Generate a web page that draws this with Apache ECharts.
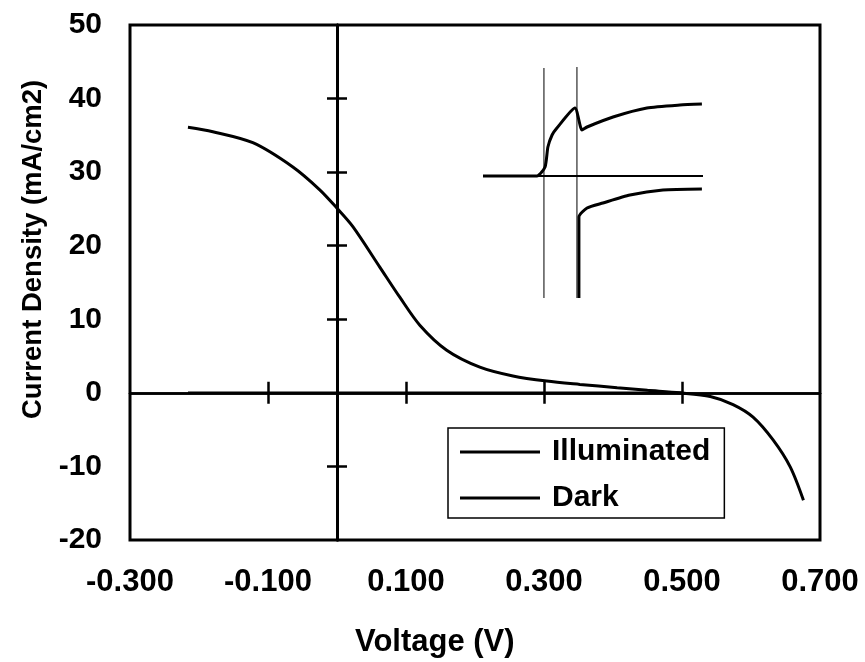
<!DOCTYPE html>
<html>
<head>
<meta charset="utf-8">
<script src="https://cdn.jsdelivr.net/npm/echarts@6/dist/echarts.min.js"></script>
<style>html,body{margin:0;padding:0;background:#fff}#c{width:865px;height:662px}</style>
</head>
<body>
<div id="c"></div>
<script>
// Main J-V data (Voltage V, Current density mA/cm2)
const illumV = [-0.216,-0.18,-0.122,-0.064,-0.025,0,0.023,0.062,0.091,0.120,0.159,0.207,0.255,0.304,0.352,0.406,0.45,0.497,0.541,0.574,0.603,0.632,0.657,0.676];
const illumJ = [36.1,35.5,34.0,30.7,27.6,25.1,22.6,17.1,13.0,9.2,5.8,3.5,2.3,1.6,1.15,0.7,0.35,0.0,-0.5,-1.6,-3.3,-6.4,-10.1,-14.6];
const darkV = [-0.216,0.0,0.2,0.4,0.5];
const darkJ = [0,0,0,0,0];
// Inset (transient) traces, arbitrary units: time 0..100, signal
const insetBaseT = [0,100];
const insetBaseS = [0,0];
const insetUpT = [0,24.5,28.2,29.5,31.4,33.6,41.8,45,47.3,59.1,74.5,89.5,99.5];
const insetUpS = [0,0,0.9,2.9,4.1,4.8,6.8,4.6,4.9,5.9,6.8,7.1,7.2];
const insetLowT = [43.6,43.6,47.3,54.5,66.8,81.8,99.5];
const insetLowS = [-12.2,-4.1,-3.2,-2.7,-1.9,-1.4,-1.3];
const insetMark1T = [27.7,27.7];
const insetMark1S = [10.8,-12.2];
const insetMark2T = [42.7,42.7];
const insetMark2S = [10.9,-12.2];
const xTicks = ['-0.300','-0.100','0.100','0.300','0.500','0.700'];
const yTicks = ['-20','-10','0','10','20','30','40','50'];
const xCrossTicks = [-0.1,0.1,0.3,0.5];
const yCrossTicks = [-10,10,20,30,40];

const zip = (a,b)=>a.map((v,i)=>[v,b[i]]);
const FONT = '"Liberation Sans", Arial, sans-serif';
const chart = echarts.init(document.getElementById('c'));
const xBase = {type:'value', min:-0.3, max:0.7, interval:0.2, gridIndex:0, splitLine:{show:false}};
const yBase = {type:'value', min:-20, max:50, interval:10, gridIndex:0, splitLine:{show:false}};
chart.setOption({
  animation:false,
  backgroundColor:'#fff',
  grid:[
    {left:130, top:25, right:45, bottom:122, show:true, borderColor:'#000', borderWidth:3, backgroundColor:'transparent'},
    {left:483, top:67, width:220, height:232, show:false}
  ],
  xAxis:[
    Object.assign({}, xBase, {position:'bottom', axisLine:{show:false}, axisTick:{show:false},
      axisLabel:{margin:27, color:'#000', fontSize:31, fontWeight:'bold', fontFamily:FONT,
        formatter:(v)=>{const i=Math.round((v+0.3)/0.2); return xTicks[i]||'';}}}),
    Object.assign({}, xBase, {position:'bottom', axisLine:{onZero:true, onZeroAxisIndex:0, lineStyle:{color:'#000', width:2.5}},
      axisTick:{show:true, inside:true, length:11, customValues:xCrossTicks, lineStyle:{color:'#000', width:2.5}}, axisLabel:{show:false}}),
    Object.assign({}, xBase, {position:'bottom', axisLine:{onZero:true, onZeroAxisIndex:0, lineStyle:{color:'#000', width:2.5}},
      axisTick:{show:true, inside:false, length:11, customValues:xCrossTicks, lineStyle:{color:'#000', width:2.5}}, axisLabel:{show:false}}),
    {type:'value', gridIndex:1, min:0, max:100, show:false}
  ],
  yAxis:[
    Object.assign({}, yBase, {position:'left', axisLine:{show:false}, axisTick:{show:false},
      axisLabel:{margin:28, color:'#000', fontSize:30, fontWeight:'bold', fontFamily:FONT,
        formatter:(v)=>{const i=Math.round((v+20)/10); return yTicks[i]||'';}}}),
    Object.assign({}, yBase, {position:'left', axisLine:{onZero:true, onZeroAxisIndex:0, lineStyle:{color:'#000', width:3}},
      axisTick:{show:true, inside:true, length:10, customValues:yCrossTicks, lineStyle:{color:'#000', width:2.5}}, axisLabel:{show:false}}),
    Object.assign({}, yBase, {position:'left', axisLine:{onZero:true, onZeroAxisIndex:0, lineStyle:{color:'#000', width:3}},
      axisTick:{show:true, inside:false, length:10, customValues:yCrossTicks, lineStyle:{color:'#000', width:2.5}}, axisLabel:{show:false}}),
    {type:'value', gridIndex:1, min:-12.3, max:10.9, show:false}
  ],
  legend:{
    data:['Illuminated','Dark'], orient:'vertical', left:448, top:428,
    icon:'rect', itemWidth:80, itemHeight:3, itemGap:16,
    padding:[9,14,5,12], borderColor:'#000', borderWidth:1.5, backgroundColor:'#fff',
    textStyle:{color:'#000', fontSize:30, fontWeight:'bold', fontFamily:FONT, padding:[0,0,0,7]},
    selectedMode:false
  },
  graphic:[
    {type:'text', left:355, top:627, style:{text:'Voltage (V)', font:'bold 31px '+FONT, fill:'#000'}},
    {type:'text', x:19, y:419, rotation:Math.PI/2, style:{text:'Current Density (mA/cm2)', font:'bold 27.5px '+FONT, fill:'#000', textAlign:'left', textVerticalAlign:'top'}}
  ],
  series:[
    {name:'Illuminated', type:'line', xAxisIndex:0, yAxisIndex:0, data:zip(illumV, illumJ), smooth:0.3, showSymbol:false,
      lineStyle:{color:'#000', width:3}, itemStyle:{color:'#000'}, z:5},
    {name:'Dark', type:'line', xAxisIndex:0, yAxisIndex:0, data:zip(darkV, darkJ), showSymbol:false,
      lineStyle:{color:'#000', width:2.5}, itemStyle:{color:'#000'}, z:4},
    {type:'line', xAxisIndex:3, yAxisIndex:3, data:zip(insetBaseT, insetBaseS), showSymbol:false, lineStyle:{color:'#000', width:2}},
    {type:'line', xAxisIndex:3, yAxisIndex:3, data:zip(insetUpT, insetUpS), showSymbol:false, smooth:0.2, lineStyle:{color:'#000', width:3}},
    {type:'line', xAxisIndex:3, yAxisIndex:3, data:zip(insetLowT, insetLowS), showSymbol:false, smooth:0.2, lineStyle:{color:'#000', width:3}},
    {type:'line', xAxisIndex:3, yAxisIndex:3, data:zip(insetMark1T, insetMark1S), showSymbol:false, lineStyle:{color:'#000', width:1}},
    {type:'line', xAxisIndex:3, yAxisIndex:3, data:zip(insetMark2T, insetMark2S), showSymbol:false, lineStyle:{color:'#000', width:1}}
  ]
});
</script>
</body>
</html>
